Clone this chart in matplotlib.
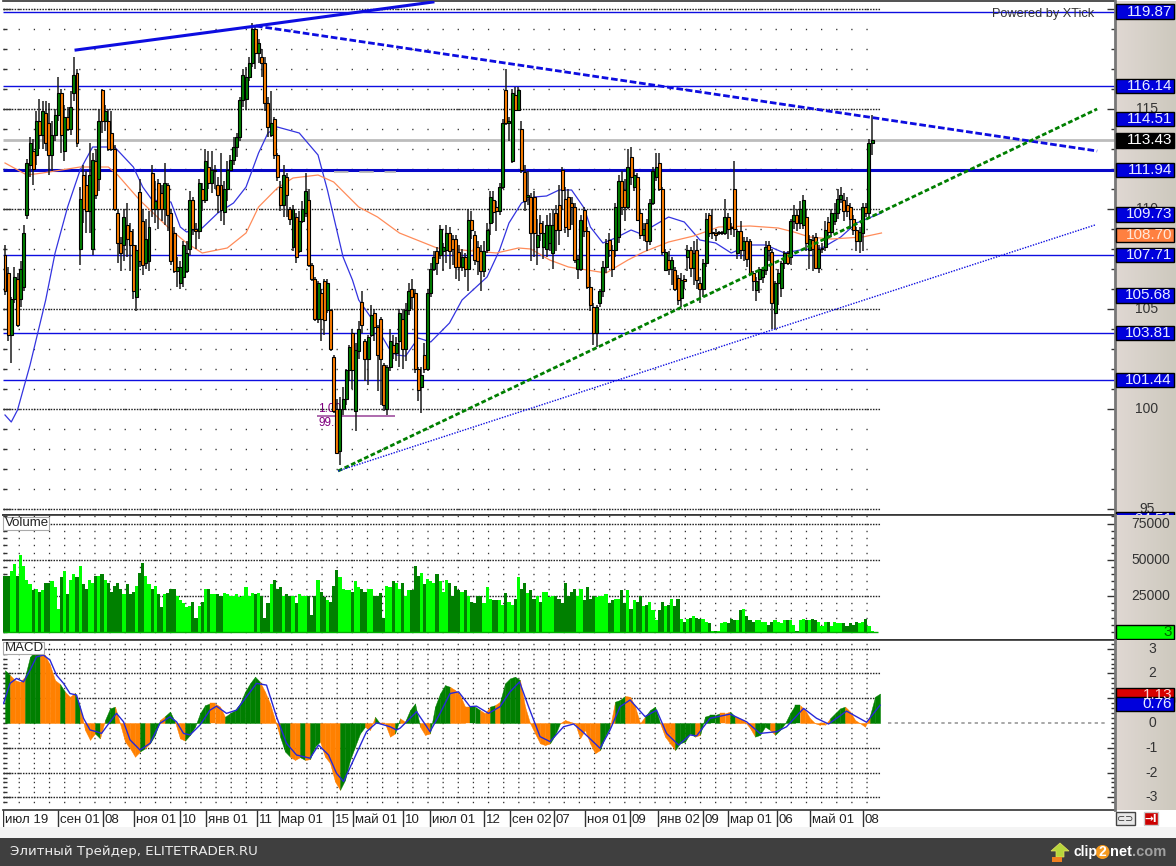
#!/usr/bin/env python3
"""XTick screen: candles with trend lines, volume and MACD panels."""

import numpy as np
import matplotlib
matplotlib.use("Agg")
import matplotlib.pyplot as plt
from matplotlib.patches import Rectangle, Polygon, Circle

plt.rcParams["font.family"] = ["Liberation Sans", "DejaVu Sans"]

W, H = 1176, 866

# ── candles ──────────────────────────────────────────────────────────────────
opens = [
    107.7, 106.8, 103.7, 105.5, 106.5, 105.5, 106.1, 109.7, 112.2, 112.9,
    112.7, 114.4, 113.7, 114.8, 114.3, 112.7, 113.7, 114.7, 115.8, 112.9, 114.6,
    114.0, 115.8, 116.8, 108.0, 111.7, 111.2, 109.9, 108.0, 112.4,
    111.5, 115.95, 114.4, 114.4, 113.8, 113.0, 109.8, 108.3, 108.2, 109.2,
    108.9, 108.2, 105.6, 110.85, 109.4, 107.3, 107.4, 111.8, 110.0, 111.3,
    110.8, 110.0, 111.2, 109.8, 108.8, 106.9, 106.3, 106.6, 106.9, 108.0,
    110.45, 109.0, 108.9, 111.0, 110.45, 112.1, 111.3, 111.9, 111.2, 111.2,
    109.85, 111.0, 111.95, 112.45, 113.1, 113.6, 115.45, 115.5, 116.6, 117.3,
    119.0, 117.8, 117.6, 117.3, 115.3, 113.7, 114.5, 112.7, 111.1, 110.2,
    111.6, 110.0, 108.1, 109.6, 107.9, 109.4, 109.8, 110.45,
    107.2, 106.5, 104.5, 105.8, 106.4, 104.95, 104.95, 102.6, 100.0, 97.9,
    100.0, 100.5, 101.95, 103.8, 99.9, 102.9, 105.35, 103.4, 102.5, 103.7,
    104.8, 104.1, 104.5, 102.2, 100.0, 102.1, 103.2, 102.8, 103.4, 104.5, 103.0, 104.95,
    106.0, 105.8, 102.0, 101.1, 102.7, 102.0, 105.8, 107.0, 107.9, 107.7,
    107.9, 107.95, 108.8, 108.5, 108.5, 107.85, 107.1, 107.6, 107.0, 109.45,
    108.7, 108.1, 107.9, 106.9, 107.95, 109.3, 110.45, 110.1, 109.9, 111.1,
    115.95, 114.3, 112.4, 115.7, 114.95, 114.0, 111.85, 110.6, 110.6, 110.6,
    108.1, 109.3, 108.1, 108.0, 108.3, 107.8, 109.8, 110.2, 111.95, 110.5,
    110.6, 110.3, 110.1, 107.0, 107.0, 109.95, 108.9, 106.1, 105.1, 103.8,
    105.3, 105.9, 107.1, 108.45, 107.95, 107.95, 108.6, 111.4, 110.95, 110.1,
    112.6, 111.1, 111.6, 109.8, 108.7, 109.3, 108.4, 110.3, 111.6, 112.3,
    111.0, 106.95, 107.45, 107.0, 106.95, 106.55, 105.55, 106.5, 107.6, 107.95,
    107.05, 107.95, 106.3, 106.0, 107.3, 109.7, 108.8, 108.8, 108.8, 108.8,
    108.8, 109.6, 109.1, 110.98, 107.8, 108.9, 107.95, 108.4, 108.4, 106.8,
    105.95, 106.5, 106.6, 106.95, 108.2, 107.85, 104.8, 106.3, 106.05, 107.3,
    107.8, 107.6, 109.4, 109.7, 109.3, 109.2, 109.6, 107.95, 108.45, 108.6,
    107.05, 108.0, 108.1, 109.35, 108.85, 109.4, 109.8, 110.5, 110.45, 110.2,
    110.1, 109.5, 108.95, 108.4, 108.8, 110.1, 109.8, 113.3,
]
highs = [
    108.2, 107.1, 105.6, 107.1, 106.8, 107.4, 109.2, 112.5, 113.6, 113.5,
    114.9, 115.5, 115.4, 115.4, 115.3, 114.4, 115.0, 116.6, 116.0, 115.2, 115.1,
    115.9, 117.6, 117.0, 111.1, 112.2, 111.9, 113.3, 112.8, 113.0,
    115.0, 116.0, 115.2, 115.0, 114.9, 113.2, 110.0, 108.6, 110.0, 110.3,
    109.3, 109.0, 108.2, 111.5, 110.0, 109.5, 109.9, 112.2, 111.4, 111.5,
    111.2, 112.3, 111.3, 110.0, 109.1, 107.6, 107.4, 108.4, 108.4, 110.9,
    110.6, 109.3, 111.5, 111.3, 113.0, 112.9, 112.9, 112.2, 111.6, 112.8,
    111.4, 112.4, 112.7, 113.6, 113.8, 115.6, 117.0, 117.1, 117.6, 119.3,
    119.1, 118.5, 118.0, 117.6, 115.6, 115.9, 114.6, 112.8, 111.4, 112.2,
    111.8, 110.1, 110.2, 109.8, 109.9, 110.4, 111.8, 111.0,
    107.3, 106.6, 106.4, 106.0, 106.5, 106.5, 105.0, 102.7, 100.5, 100.6,
    101.1, 102.0, 103.2, 104.0, 103.3, 104.4, 105.9, 103.5, 103.7, 105.2,
    105.0, 104.2, 104.6, 102.3, 102.2, 104.0, 103.7, 103.6, 105.0, 105.0, 105.3, 106.3,
    106.5, 106.0, 102.1, 102.1, 103.3, 106.0, 107.3, 107.9, 108.1, 109.2,
    108.3, 109.2, 109.1, 108.7, 108.7, 108.2, 108.0, 107.8, 110.0, 109.9,
    108.9, 108.4, 108.2, 108.4, 109.3, 110.9, 110.9, 110.4, 111.3, 114.5,
    117.0, 114.6, 116.0, 116.1, 116.1, 114.4, 112.2, 111.9, 110.8, 110.9,
    109.5, 109.7, 109.4, 109.7, 109.8, 110.0, 110.2, 111.2, 112.1, 111.1,
    111.0, 110.6, 110.3, 107.7, 109.7, 110.1, 109.1, 106.6, 105.3, 105.2,
    106.0, 107.4, 108.5, 108.8, 108.2, 110.3, 111.7, 111.9, 111.5, 113.0,
    113.1, 112.0, 111.8, 110.0, 109.3, 109.5, 110.5, 112.1, 112.8, 112.8,
    111.1, 108.0, 107.9, 107.6, 107.1, 106.7, 106.8, 106.7, 108.2, 108.1,
    108.4, 108.5, 106.6, 107.5, 109.8, 109.8, 110.0, 109.0, 108.9, 108.9,
    110.5, 109.8, 109.3, 112.4, 109.0, 109.4, 108.6, 108.6, 108.5, 106.9,
    106.6, 107.1, 107.1, 108.4, 108.4, 108.0, 106.4, 107.0, 107.4, 107.9,
    107.9, 109.5, 110.2, 110.0, 110.4, 110.7, 110.0, 108.7, 108.7, 108.8,
    108.2, 108.3, 109.4, 109.6, 110.0, 110.3, 111.0, 111.1, 110.8, 110.6,
    110.3, 109.7, 109.1, 109.1, 110.3, 110.3, 113.5, 114.7,
]
lows = [
    105.7, 103.4, 102.3, 105.3, 104.1, 105.1, 105.9, 109.5, 111.6, 111.2,
    112.2, 113.0, 113.0, 112.9, 111.7, 111.9, 113.4, 114.4, 112.8, 112.4, 113.9,
    113.7, 115.4, 113.1, 107.2, 109.3, 108.8, 108.8, 107.7, 110.5,
    110.9, 113.8, 113.9, 112.9, 112.9, 109.9, 107.3, 106.9, 107.4, 107.6,
    106.9, 105.5, 104.9, 107.1, 106.7, 107.0, 106.9, 109.6, 109.3, 109.0,
    109.4, 109.2, 108.9, 107.2, 106.8, 106.1, 106.0, 106.1, 106.8, 107.7,
    108.7, 108.0, 108.5, 109.9, 110.3, 111.0, 110.8, 111.0, 109.8, 109.4,
    109.2, 110.4, 111.9, 112.2, 112.6, 113.4, 115.1, 115.0, 116.4, 117.1,
    117.0, 117.3, 116.6, 114.9, 113.6, 113.6, 112.5, 111.4, 109.9, 109.6,
    109.6, 109.2, 107.9, 107.3, 107.8, 109.3, 109.6, 107.1,
    106.4, 104.4, 104.3, 103.4, 103.7, 104.8, 102.9, 99.8, 97.8, 97.2,
    99.7, 100.2, 101.4, 101.0, 98.9, 102.5, 103.8, 101.4, 101.2, 103.6,
    103.4, 100.9, 100.2, 99.9, 99.7, 101.9, 102.5, 102.4, 102.1, 102.0, 102.4, 104.7,
    105.0, 101.8, 100.4, 99.8, 101.8, 101.9, 105.6, 106.9, 106.7, 107.5,
    106.9, 107.3, 107.0, 107.2, 106.5, 106.4, 106.9, 106.6, 105.9, 108.5,
    107.2, 106.7, 105.9, 106.6, 107.8, 108.7, 109.3, 108.9, 109.7, 111.0,
    114.2, 113.4, 112.3, 114.9, 114.9, 111.8, 109.9, 110.2, 107.4, 107.6,
    107.2, 108.4, 107.5, 107.6, 107.9, 107.0, 107.9, 108.2, 110.0, 108.8,
    108.6, 109.2, 107.3, 106.5, 106.9, 108.6, 106.0, 104.9, 103.2, 103.1,
    105.1, 105.6, 106.8, 107.6, 106.6, 107.6, 108.3, 109.7, 109.4, 110.0,
    111.2, 110.9, 109.4, 108.5, 108.4, 107.9, 108.2, 110.2, 111.4, 110.9,
    107.7, 106.9, 106.7, 106.2, 105.9, 105.2, 105.1, 106.0, 106.9, 106.6,
    106.2, 106.0, 105.3, 105.6, 107.1, 108.6, 108.5, 108.4, 108.7, 108.7,
    108.7, 108.5, 108.7, 108.6, 107.5, 107.5, 107.4, 107.1, 106.7, 105.9,
    105.4, 105.8, 106.3, 106.7, 107.4, 104.0, 104.0, 105.2, 105.6, 107.0,
    107.2, 107.2, 109.0, 108.9, 109.0, 109.0, 107.9, 107.0, 106.9, 107.0,
    106.8, 107.8, 107.9, 108.6, 108.6, 109.2, 109.5, 110.3, 109.4, 109.6,
    109.0, 108.7, 107.9, 107.8, 107.9, 109.6, 109.6, 112.7,
]
closes = [
    105.9, 103.7, 105.5, 106.6, 104.2, 107.0, 108.8, 112.3, 113.3, 112.0,
    114.4, 113.7, 114.9, 113.3, 112.7, 113.7, 114.7, 115.8, 113.7, 114.6, 114.0,
    115.1, 116.7, 113.3, 110.5, 110.0, 109.9, 111.7, 112.45, 110.7,
    114.4, 114.4, 114.9, 113.0, 113.0, 110.0, 108.3, 107.8, 109.6, 108.5,
    108.2, 105.9, 107.95, 107.4, 107.2, 108.5, 109.1, 110.0, 110.4, 110.0,
    110.0, 111.3, 109.7, 107.4, 106.9, 107.1, 107.1, 108.2, 107.8, 110.45,
    109.0, 108.9, 111.3, 110.45, 112.4, 111.3, 111.95, 111.9, 110.7, 109.95,
    111.0, 111.95, 112.45, 113.1, 113.6, 115.45, 116.7, 116.6, 117.3, 119.0,
    117.8, 118.3, 117.3, 115.3, 114.1, 114.3, 112.7, 111.6, 110.2, 111.7,
    110.7, 109.5, 110.0, 107.6, 109.4, 110.0, 110.9, 107.2,
    106.5, 104.5, 106.3, 104.5, 104.45, 106.3, 103.0, 99.9, 97.8, 100.0,
    100.5, 101.95, 103.1, 101.95, 102.95, 104.0, 104.2, 102.5, 103.6, 104.7,
    104.1, 102.7, 102.5, 100.2, 102.1, 103.4, 102.8, 103.3, 104.8, 103.0, 104.95, 105.9,
    105.6, 102.0, 100.95, 101.7, 102.0, 105.8, 107.0, 107.6, 107.3, 109.0,
    108.1, 108.8, 107.9, 108.0, 107.1, 107.1, 107.6, 107.0, 109.45, 108.95,
    107.45, 107.4, 106.9, 107.9, 108.95, 110.6, 109.85, 109.9, 111.1, 114.3,
    114.3, 114.4, 115.8, 114.95, 115.95, 111.95, 110.4, 110.7, 108.8, 108.8,
    108.7, 108.8, 108.8, 109.2, 109.2, 109.2, 108.95, 108.95, 110.95, 109.1,
    109.0, 110.1, 107.45, 107.5, 109.45, 108.9, 106.1, 105.2, 103.8, 105.1,
    105.9, 107.1, 108.3, 107.95, 107.0, 110.1, 111.4, 110.1, 110.1, 112.1,
    111.6, 111.7, 109.45, 108.7, 109.0, 108.4, 110.3, 111.9, 112.1, 111.0,
    107.85, 107.85, 107.0, 107.45, 106.0, 105.45, 106.45, 106.4, 107.95, 107.05,
    107.8, 106.45, 106.0, 107.3, 109.5, 108.8, 108.8, 108.7, 108.8, 108.8,
    109.6, 109.0, 109.05, 109.0, 108.9, 107.95, 108.4, 107.5, 106.8, 106.4,
    106.4, 107.0, 106.95, 108.1, 107.95, 105.3, 106.3, 106.8, 107.3, 107.8,
    107.3, 109.4, 109.7, 109.3, 110.0, 110.45, 108.3, 108.5, 108.0, 107.05,
    108.0, 108.0, 108.95, 108.85, 109.8, 109.8, 110.5, 110.7, 109.9, 109.9,
    109.5, 108.95, 108.4, 108.85, 110.1, 109.8, 113.3, 113.43,
]

# moving averages, read at a few bars
fast_bars = [0, 2, 4, 8, 13, 16, 20, 24, 28, 35, 41, 44, 47, 53, 56, 58, 63, 68, 73, 77,
             81, 84, 87, 94, 100, 103, 108, 111, 113, 117, 123, 125, 128, 132, 136, 142,
             146, 154, 158, 161, 165, 169, 173, 177, 181, 185, 187, 191, 195, 200, 204,
             206, 212, 217, 222, 227, 232, 238, 243, 249, 254, 261, 267, 272, 280]
fast_ma = [99.7, 99.35, 99.95, 102.2, 105.45, 107.8, 110.1, 111.95, 113.1, 113.1, 112.1,
           111.1, 110.45, 110.35, 109.1, 108.85, 109.05, 109.8, 110.3, 111.1, 112.8, 113.8,
           114.1, 113.8, 112.7, 110.95, 107.6, 106.45, 105.45, 104.55, 102.95, 102.7,
           102.65, 103.55, 103.35, 104.3, 105.45, 106.6, 107.95, 109.3, 110.3, 110.6,
           110.65, 110.95, 110.95, 110.05, 109.1, 108.3, 108.55, 108.95, 108.7, 109.05,
           109.6, 109.35, 108.45, 108.3, 107.8, 108.2, 108.2, 107.8, 107.95, 108.05,
           108.6, 109.3, 109.8]
slow_bars = [0, 7, 12, 24, 33, 36, 43, 52, 58, 63, 71, 77, 81, 87, 92, 100, 105, 113, 119,
             126, 138, 146, 157, 164, 168, 174, 180, 186, 192, 199, 204, 212, 220, 228,
             238, 247, 252, 257, 264, 274, 280]
slow_ma = [112.3, 111.7, 111.8, 112.1, 112.1, 111.7, 110.45, 109.1, 108.3, 107.8, 108.05,
           108.8, 110.1, 111.05, 111.55, 111.7, 111.35, 110.1, 109.6, 108.8, 108.05, 107.95,
           107.8, 108.05, 108.0, 107.45, 107.1, 106.95, 106.8, 107.45, 107.85, 108.35,
           108.65, 109.1, 109.15, 109.05, 108.85, 108.6, 108.5, 108.6, 108.8]

# drawn levels and trend lines
thin_levels = [119.87, 116.14, 107.71, 103.81, 101.44]
thick_level = 111.94
gray_level = 113.43
high_line_bars, high_line_prices = [22.7, 80.2, 136.7], [117.95, 119.15, 120.35]
fall_line_bars, fall_line_prices = [80.2, 348.9], [119.15, 112.9]
rise_line_bars, rise_line_prices = [106.4, 348.9], [96.9, 115.0]
low_line_bars, low_line_prices = [106.4, 348.2], [96.9, 109.2]

# right axis value boxes
blue_boxes = [119.87, 116.14, 114.51, 111.94, 109.73, 107.71, 105.68, 103.81, 101.44, 94.51]
last_price = 113.43
slow_value = 108.70

# ── volume, thousands ────────────────────────────────────────────────────────
volumes = [
    39, 39, 42, 47, 39, 53, 46,
    36, 33, 29, 30, 28, 29, 34, 34, 35, 31,
    16, 38, 42, 26, 36, 40, 38, 46, 33, 30,
    36, 34, 39, 39, 40, 36, 34, 28, 32, 34, 30, 26,
    33, 26, 28, 32, 41, 48, 39, 33, 30, 32,
    26, 17, 26, 27, 30, 30, 25, 22, 20, 17,
    18, 21, 10, 18, 21, 30, 30, 26, 26, 26, 25, 27,
    26, 25, 25, 26, 24, 25, 31, 25, 27, 26,
    27, 25, 10, 20, 33, 36, 30, 31, 25, 26,
    25, 25, 20, 26, 25, 25, 25, 12, 25, 36, 28, 24,
    22, 21, 32, 43, 38, 30, 29, 29, 28, 35,
    31, 30, 28, 30, 30, 25, 25, 27, 10, 32,
    31, 35, 34, 30,
    34, 25, 29, 29, 46, 39, 41, 33, 37, 35,
    34, 40, 35, 28, 36, 34, 25, 32, 29, 28,
    29, 25, 21, 20, 25, 25, 20, 31, 23, 22,
    22, 22, 19, 27, 21, 19, 23, 38, 30, 34,
    27, 29, 23, 25, 21, 28, 28, 24, 25, 25,
    23, 20, 34, 25, 28, 30, 25, 30, 22, 31,
    23, 25, 24, 25, 25, 26, 20, 22, 23, 23,
    29, 20, 29, 16, 22, 21, 25, 18, 19, 21,
    15, 8, 15, 21, 18, 19, 23, 18, 23,
    9, 7, 9, 10, 11, 10, 9, 9, 7, 6,
    1, 1, 1, 6, 7, 6, 9, 8, 8, 15,
    16, 11, 8, 7, 8, 8, 7, 7, 5, 7,
    8, 7, 6, 8, 8, 8, 5, 1, 8, 9,
    8, 8, 9, 8, 7, 4, 7, 7, 4, 7,
    6, 6, 6, 4, 6, 5, 7, 6, 7, 9,
    4, 1,
]

# ── MACD ─────────────────────────────────────────────────────────────────────
macd_hist = [
    2.13, 1.93, 1.73, 1.66, 1.87, 2.67, 2.91, 2.94, 2.74, 2.34,
    1.73, 1.57, 1.26, 1.06, 1.22, 0.66, -0.28, -0.68, -0.42, -0.62,
    0.12, 0.59, 0.66, -0.02, -0.75, -1.02, -1.36, -1.15, -1.02, -0.82,
    -0.48, 0.12, 0.28, 0.46, 0.05, -0.62, -0.71, -0.48, -0.15, 0.39,
    0.72, 0.79, 0.79, 0.66, 0.25, 0.39, 0.52, 0.79, 1.26, 1.6,
    1.87, 1.66, 1.26, 0.79, 0.12, -0.55, -1.15, -1.36, -1.49, -1.38,
    -1.49, -1.46, -0.95, -0.75, -1.36, -1.62, -2.36, -2.7, -2.3, -1.49,
    -0.95, -0.42, -0.15, -0.28, 0.25, -0.02, -0.02, -0.55, -0.42,
    0.19, 0.05, 0.52, 0.79, -0.15, -0.48, -0.42, 0.66, 1.19, 1.53,
    1.46, 1.33, 1.13, 0.66, 0.66, 0.66, 0.52, 0.39, 0.66, 0.72,
    0.86, 1.6, 1.8, 1.87, 1.73, 0.66, -0.01, -0.42, -0.82, -0.89,
    -0.82, -0.48, -0.01, 0.12, 0.05, -0.01, -0.62, -0.28, -0.82, -1.22,
    -1.09, -0.55, -0.15, 0.86, 0.93, 1.09, 1.06, 0.66, -0.01, 0.26,
    0.52, 0.66, -0.01, -0.55, -0.82, -1.09, -0.82, -0.75, -0.42, -0.55,
    -0.48, 0.26, 0.32, 0.32, 0.39, 0.39, 0.46, 0.26, 0.19, 0.05,
    -0.21, -0.55, -0.48, -0.15, -0.28, -0.48, -0.28, -0.01, 0.39, 0.72,
    0.72, 0.52, 0.19, -0.01, -0.08, -0.08, 0.19, 0.39, 0.59, 0.66,
    0.46, 0.12, -0.01, -0.15, 0.32, 1.06, 1.19,
]
macd_colors = (
    "gooogggooo" "ogoogooogo" "ggooooogog" "goggoogggg" "gooogggggg"
    "gooooggoog" "oggooooggg" "ggoogooog"
    "ogggoogggg" "ooooggoogo" "ggggoooooo" "ggoooooooo" "ggoggoooog"
    "ggoooggggo" "ggggoogooo" "ogggoggggg" "oooooogggo" "ooooggg"
)
signal_bars = [-0.3, 1, 2.3, 3.7, 5, 6.3, 7.7, 9, 10.3, 11.7, 13, 14.3, 15.7, 17, 18.3, 19.3,
               21, 22.3, 23.7, 25, 27, 29, 31, 33, 34.3, 35.7, 37, 39, 41, 42.3, 44.3, 46.3,
               48.3, 50.3, 52.3, 54.3, 56.3, 58.3, 61, 62.7, 64.7, 66.3, 67.7, 69.7, 72.3,
               74.3, 77, 78.3, 79, 81, 82.3, 85, 87, 89, 90.7, 93, 94.3, 96.7, 99, 101, 102.9,
               104.7, 107, 109, 111.7, 113.7, 115.3, 119, 121, 123, 125, 128, 130.3, 132.3,
               134.7, 137, 138.3, 141, 145, 148.3, 151, 154.3, 156.3, 159.7, 162.3, 164.7,
               168.3, 172.3, 175]
signal_vals = [0.79, 1.6, 1.8, 1.66, 2.13, 2.67, 2.74, 2.54, 1.93, 1.6, 1.19, 1.13, 0.19, -0.28,
               -0.35, -0.42, 0.05, 0.39, 0.05, -0.68, -1.09, -0.82, -0.01, 0.25, 0.05, -0.42,
               -0.48, -0.08, 0.52, 0.68, 0.39, 0.52, 1.06, 1.6, 1.53, 0.25, -0.82, -1.29, -1.42,
               -0.89, -1.29, -2.03, -2.36, -1.49, -0.35, 0.01, -0.15, -0.28, -0.21, 0.19, 0.46,
               -0.35, 0.39, 1.19, 1.26, 0.66, 0.68, 0.39, 0.66, 1.26, 1.66, 0.66, -0.55, -0.75,
               -0.15, -0.04, -0.31, -1.02, -0.28, 0.66, 0.93, 0.26, 0.52, -0.42, -0.89, -0.48,
               -0.52, 0.19, 0.36, 0.05, -0.42, -0.35, -0.15, 0.59, 0.19, -0.04, 0.48, 0.03, 0.72]

# ── time row ─────────────────────────────────────────────────────────────────
time_bars = [-0.6, 17, 31.3, 41.2, 55.9, 64.2, 80.5, 87.5, 104.8, 111.2, 127.2, 135.8, 153,
             161.3, 175.4, 185.3, 199.7, 208.6, 223, 231, 246.6, 257.2, 274.1]
time_labels = ["июл 19", "сен 01", "08", "ноя 01", "10", "янв 01", "11", "мар 01", "15", "май 01",
               "10", "июл 01", "12", "сен 02", "07", "ноя 01", "09", "янв 02", "09", "мар 01",
               "06", "май 01", "08"]

GREEN = "#007f00"
ORANGE = "#ff8000"
BLUE = "#0d0de0"
BAR_XLIM = (-0.64, 354.6)
GRID_END = 279.5


def axes_px(fig, x0, y0, x1, y1):
    """Axes from pixel box, y measured from the top of the picture."""
    return fig.add_axes([x0 / W, 1 - y1 / H, (x1 - x0) / W, (y1 - y0) / H])


def setup_panel(ax, ylim, major, minor):
    ax.set_xlim(*BAR_XLIM)
    ax.set_ylim(*ylim)
    ax.set_xticks([])
    ax.set_yticks(major)
    ax.set_yticks(minor, minor=True)
    ax.tick_params(axis="y", which="major", left=True, right=True, direction="in",
                   length=6, width=1, color="#333333", labelleft=False, labelright=False)
    ax.tick_params(axis="y", which="minor", left=True, right=True, direction="in",
                   length=3, width=1, color="#333333")
    ax.spines["left"].set_visible(False)
    ax.spines["right"].set_visible(False)
    for s in ("top", "bottom"):
        ax.spines[s].set_color("#333333")
        ax.spines[s].set_linewidth(1.2)
    ax.hlines(minor, BAR_XLIM[0], GRID_END, color="#333333", lw=1,
              linestyles=[(0, (0.9, 10))], zorder=1)
    ax.hlines(major, BAR_XLIM[0], GRID_END, color="#222222", lw=1,
              linestyles=[(0, (1.1, 0.9))], zorder=1)


def value_strip(fig, y0, y1, ylim):
    """Beige strip right of a panel, same y scale as the panel."""
    st = axes_px(fig, 1115, y0, 1176, y1)
    st.imshow(np.linspace(0, 1, 64).reshape(1, -1), extent=(0, 61, ylim[0], ylim[1]),
              aspect="auto", cmap=matplotlib.colors.LinearSegmentedColormap.from_list(
                  "strip", ["#e0d8d3", "#cdc9be"]), zorder=0)
    st.set_xlim(0, 61)
    st.set_ylim(*ylim)
    st.set_xticks([])
    st.set_yticks([])
    for s in st.spines.values():
        s.set_visible(False)
    st.spines["left"].set_visible(True)
    st.spines["left"].set_color("#777777")
    st.spines["left"].set_linewidth(2)
    return st


def value_box(st, y, label, fc, tc, height):
    st.add_patch(Rectangle((1, y - height / 2), 58, height, fc=fc, ec="black", lw=1, zorder=3))
    st.text(57, y, label, color=tc, ha="right", va="center", fontsize=11, zorder=4)


def axis_label(st, y, label, x=40):
    st.text(x, y, label, color="#333333", ha="center", va="center", fontsize=10, zorder=2)


fig = plt.figure(figsize=(W / 100, H / 100), dpi=100, facecolor="white")

# ── price panel ──────────────────────────────────────────────────────────────
ax = axes_px(fig, 3, 1, 1115, 515)
price_lim = (94.7, 120.4)
setup_panel(ax, price_lim, list(range(95, 121, 5)), list(range(95, 121)))

ax.hlines(gray_level, BAR_XLIM[0], BAR_XLIM[1], color="#bcbcbc", lw=2, zorder=2)
ax.hlines(thin_levels, BAR_XLIM[0], BAR_XLIM[1], color=BLUE, lw=1, zorder=2)
ax.hlines(thick_level, BAR_XLIM[0], BAR_XLIM[1], color="#0808c8", lw=2.2, zorder=2)
ax.hlines(111.85, 105, 125, color="#b8b8b8", lw=1.3, linestyles=[(0, (8, 6))], zorder=2)

# the purple measure under the candles
ax.hlines(99.65, 99.7, 124.6, color="#a050a0", lw=1.2, zorder=2)
ax.text(100, 99.7, "1.00", color="#800080", fontsize=8.5, va="bottom", zorder=2)
ax.text(100, 99.6, "99.5", color="#800080", fontsize=8.5, va="top", zorder=2)

ax.plot(fast_bars, fast_ma, color="#3434e0", lw=0.9, zorder=2.5)
ax.plot(slow_bars, slow_ma, color="#ff8c5a", lw=0.9, zorder=2.5)

x = np.arange(len(closes))
o = np.array(opens)
c = np.array(closes)
ax.vlines(x, lows, highs, color="#1c1c1c", lw=1.1, zorder=3)
ax.bar(x, np.abs(c - o).clip(0.06), bottom=np.minimum(o, c), width=0.95,
       color=[GREEN if cc >= oo else ORANGE for oo, cc in zip(opens, closes)],
       edgecolor="black", lw=0.8, zorder=3.2)

ax.plot(high_line_bars, high_line_prices, color=BLUE, lw=2.2, zorder=4)
ax.plot(fall_line_bars, fall_line_prices, color=BLUE, lw=2, ls=(0, (2.4, 1)), zorder=4)
ax.plot(rise_line_bars, rise_line_prices, color=GREEN, lw=2, ls=(0, (1.7, 0.9)), zorder=4)
ax.plot(low_line_bars, low_line_prices, color=BLUE, lw=1, ls=(0, (1, 1)), zorder=4)

st = value_strip(fig, 1, 515, price_lim)
for p, label in zip([115, 110, 105, 100, 95], ["115", "110", "105", "100", "95"]):
    axis_label(st, p, label, x=32)
for p in blue_boxes:
    value_box(st, p, f"{p:.2f}", "#0000dc", "#e8ecff", 0.72)
value_box(st, last_price, f"{last_price:.2f}", "black", "white", 0.72)
value_box(st, slow_value, f"{slow_value:.2f}", "#ff8040", "#ffe8d8", 0.72)

# ── volume panel ─────────────────────────────────────────────────────────────
vol_ax = axes_px(fig, 3, 515, 1115, 640)
vol_lim = (-5.5, 81)
setup_panel(vol_ax, vol_lim, [25, 50, 75], list(range(0, 81, 5)))
vol_colors = ["#008000" if closes[i] < opens[i] else "#00ff00" for i in range(len(closes))]
vol_ax.bar(np.arange(len(volumes)), volumes, width=1.0, color=vol_colors, lw=0, zorder=3)
vol_ax.hlines(0, BAR_XLIM[0], 279, color="#00b000", lw=1, zorder=3)

st = value_strip(fig, 515, 640, vol_lim)
for v, label in zip([75, 50, 25], ["75000", "50000", "25000"]):
    axis_label(st, v, label, x=36)
value_box(st, 0, "3", "#00ff00", "#006000", 9.5)

# ── MACD panel ───────────────────────────────────────────────────────────────
macd_ax = axes_px(fig, 3, 640, 1115, 810)
macd_lim = (-3.51, 3.35)
setup_panel(macd_ax, macd_lim, [-3, -2, -1, 1, 2, 3],
            [round(-3.2 + 0.2 * i, 1) for i in range(33)])
macd_ax.hlines(0, 282, 352, color="#999999", lw=1.2, linestyles=[(0, (2, 2))], zorder=1)
# histogram has its own coarser step, so map its bars to the price bars
HIST_STEP = 5 / 3.13
hx = np.arange(len(macd_hist)) * HIST_STEP
for i in range(len(macd_hist) - 1):
    macd_ax.fill_between(hx[i:i + 2], macd_hist[i:i + 2], 0, lw=0.3, zorder=3,
                         color=GREEN if macd_colors[i] == "g" else ORANGE)
macd_ax.plot(np.array(signal_bars) * HIST_STEP, signal_vals, color="#2828d8", lw=1, zorder=4)

st = value_strip(fig, 640, 810, macd_lim)
for v, label in zip([3, 2, 1, 0, -1, -2, -3], ["3", "2", "1", "0", "-1", "-2", "-3"]):
    axis_label(st, v, label, x=37)
value_box(st, 1.13, "1.13", "#d80000", "#ffd0d0", 0.56)
value_box(st, 0.76, "0.76", "#0000dc", "#e8ecff", 0.56)

# ── time row ─────────────────────────────────────────────────────────────────
time_ax = axes_px(fig, 3, 810, 1115, 827)
time_ax.set_xlim(*BAR_XLIM)
time_ax.set_ylim(0, 1)
time_ax.axis("off")
time_ax.vlines(time_bars, 0, 1, color="#333333", lw=1)
for b, label in zip(time_bars, time_labels):
    time_ax.text(b + 0.6, 0.42, label, fontsize=9.5, color="#222222", va="center", ha="left")

# panel name tags
for y0, y1, xr, name in [(517, 530, 49, "Volume"), (642, 654, 44, "MACD")]:
    fig.patches.append(Rectangle((4 / W, 1 - (y1 + 1) / H), (xr - 3) / W, (y1 - y0) / H,
                                 transform=fig.transFigure, fc="#909090", ec="none", zorder=6))
    fig.patches.append(Rectangle((3 / W, 1 - y1 / H), (xr - 3) / W, (y1 - y0) / H,
                                 transform=fig.transFigure, fc="white", ec="#aaaaaa", lw=0.8,
                                 zorder=7))
    fig.text(5 / W, 1 - (y0 + y1) / 2 / H, name, fontsize=9.5, color="#222222", va="center",
             zorder=8)

fig.text(992 / W, 1 - 14 / H, "Powered by XTick", fontsize=9.2, color="#333333", va="center")

# ── bottom bars and logo ─────────────────────────────────────────────────────
fig.patches.append(Rectangle((0, 1 - 838 / H), 1, 11 / H, transform=fig.transFigure,
                             fc="#f4f4f4", ec="none", zorder=0))
fig.patches.append(Rectangle((0, 0), 1, 28 / H, transform=fig.transFigure,
                             fc="#3f3f3f", ec="none", zorder=1))
fig.text(10 / W, 1 - 852 / H, "Элитный Трейдер, ELITETRADER.RU", fontsize=9.6, color="#ececec",
         va="center", family=["DejaVu Sans"], zorder=2)

# little buttons under the strip
fig.patches.append(Rectangle((1116 / W, 1 - 825 / H), 19 / W, 13 / H, transform=fig.transFigure,
                             fc="#e8e8e8", ec="#444444", lw=1, zorder=2))
fig.text(1125.5 / W, 1 - 819 / H, "⊂⊃", fontsize=7, color="#333333", ha="center", va="center",
         family=["DejaVu Sans"], zorder=3)
fig.patches.append(Rectangle((1144 / W, 1 - 825 / H), 14 / W, 13 / H, transform=fig.transFigure,
                             fc="#cc0000", ec="#cccccc", lw=1, zorder=2))
fig.text(1151 / W, 1 - 819 / H, "→I", fontsize=7.5, color="white", ha="center", va="center",
         family=["DejaVu Sans"], weight="bold", zorder=3)

arrow = [(1060, 843), (1069, 851), (1064, 851), (1064, 857), (1056, 857), (1056, 851), (1051, 851)]
fig.patches.append(Polygon([(px / W, 1 - py / H) for px, py in arrow], transform=fig.transFigure,
                           fc="#b6d63c", ec="#e8e060", lw=0.5, zorder=3))
fig.patches.append(Rectangle((1052 / W, 1 - 862 / H), 10 / W, 5 / H, transform=fig.transFigure,
                             fc="#f08020", ec="none", zorder=3))
fig.text(1073 / W, 1 - 852 / H, "clip", fontsize=10, color="white", weight="bold", va="center",
         zorder=3)
fig.patches.append(Circle((1102.5, 14), 7, transform=None, fc="#f59a20", ec="none", zorder=3))
fig.text(1102.5 / W, 1 - 852 / H, "2", fontsize=10, color="white", weight="bold", va="center",
         ha="center", zorder=4)
fig.text(1110 / W, 1 - 852 / H, "net", fontsize=10.5, color="white", weight="bold", va="center",
         zorder=3)
fig.text(1132 / W, 1 - 852 / H, ".com", fontsize=10.5, color="#a0a0a0", weight="bold", va="center",
         zorder=3)

fig.savefig("out.png", dpi=100)
